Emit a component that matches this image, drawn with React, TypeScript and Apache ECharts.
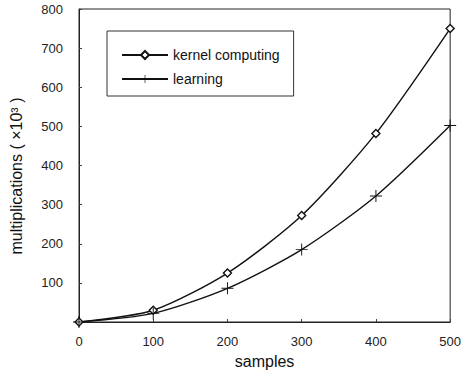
import React, { useEffect, useRef } from "react";
import * as echarts from "echarts";

const samples = [0, 100, 200, 300, 400, 500];
const kernelComputing = [0, 30, 125, 272, 482, 750];
const learning = [0, 22, 86, 185, 322, 502];
const xTicks = [0, 100, 200, 300, 400, 500];
const yTicks = [100, 200, 300, 400, 500, 600, 700, 800];
const yAxisTitle = "multiplications ( ×10³ )";
const xAxisTitle = "samples";

const FONT = "'Liberation Sans', Arial, sans-serif";
const PLUS = "path://M4.6,0h0.8v4.6h4.6v0.8h-4.6v4.6h-0.8v-4.6h-4.6v-0.8h4.6z";

export default function App() {
  const ref = useRef<HTMLDivElement>(null);
  useEffect(() => {
    const chart = echarts.init(ref.current!, null, { renderer: "svg" });
    chart.setOption({
      animation: false,
      backgroundColor: "#fff",
      grid: {
        left: 79,
        right: 9,
        top: 9,
        bottom: 59,
        show: true,
        borderColor: "#222",
        borderWidth: 1,
      },
      legend: {
        left: 107,
        top: 31,
        orient: "vertical",
        padding: [17, 14, 10, 14],
        itemWidth: 46,
        itemHeight: 10,
        itemGap: 10,
        borderColor: "#333",
        borderWidth: 1,
        textStyle: { fontFamily: FONT, fontSize: 14, color: "#111" },
        data: ["kernel computing", "learning"],
      },
      graphic: [
        {
          type: "text",
          x: 16,
          y: 176,
          rotation: Math.PI / 2,
          style: {
            text: yAxisTitle,
            fontFamily: FONT,
            fontSize: 16,
            fill: "#111",
            align: "center",
            verticalAlign: "middle",
          },
        },
      ],
      xAxis: {
        type: "value",
        min: 0,
        max: 500,
        interval: 100,
        name: xAxisTitle,
        nameLocation: "middle",
        nameGap: 31,
        nameTextStyle: { fontFamily: FONT, fontSize: 16, color: "#111" },
        axisLine: { lineStyle: { color: "#222" } },
        axisTick: { inside: true, length: 3, lineStyle: { color: "#444" } },
        splitLine: { show: false },
        axisLabel: {
          fontFamily: FONT,
          fontSize: 13,
          color: "#222",
          margin: 13,
          formatter: (v: number) => (xTicks.includes(v) ? String(v) : ""),
        },
      },
      yAxis: {
        type: "value",
        min: 0,
        max: 800,
        interval: 100,
        axisLine: { lineStyle: { color: "#222" } },
        axisTick: { inside: true, length: 3, lineStyle: { color: "#444" } },
        splitLine: { show: false },
        axisLabel: {
          fontFamily: FONT,
          fontSize: 13,
          color: "#222",
          margin: 16,
          formatter: (v: number) => (yTicks.includes(v) ? String(v) : ""),
        },
      },
      series: [
        {
          name: "kernel computing",
          type: "line",
          smooth: 0.25,
          data: samples.map((s, i) => [s, kernelComputing[i]]),
          symbol: "diamond",
          symbolSize: 8,
          showAllSymbol: true,
          lineStyle: { color: "#111", width: 1.4 },
          itemStyle: { color: "#fff", borderColor: "#111", borderWidth: 1.4 },
        },
        {
          name: "learning",
          type: "line",
          smooth: 0.25,
          data: samples.map((s, i) => [s, learning[i]]),
          symbol: PLUS,
          symbolSize: 12,
          lineStyle: { color: "#111", width: 1.4 },
          itemStyle: { color: "#111" },
        },
      ],
    });
    return () => chart.dispose();
  }, []);
  return (
    <div
      ref={ref}
      style={{ position: "absolute", left: 0, top: 0, width: 464, height: 381 }}
    />
  );
}
